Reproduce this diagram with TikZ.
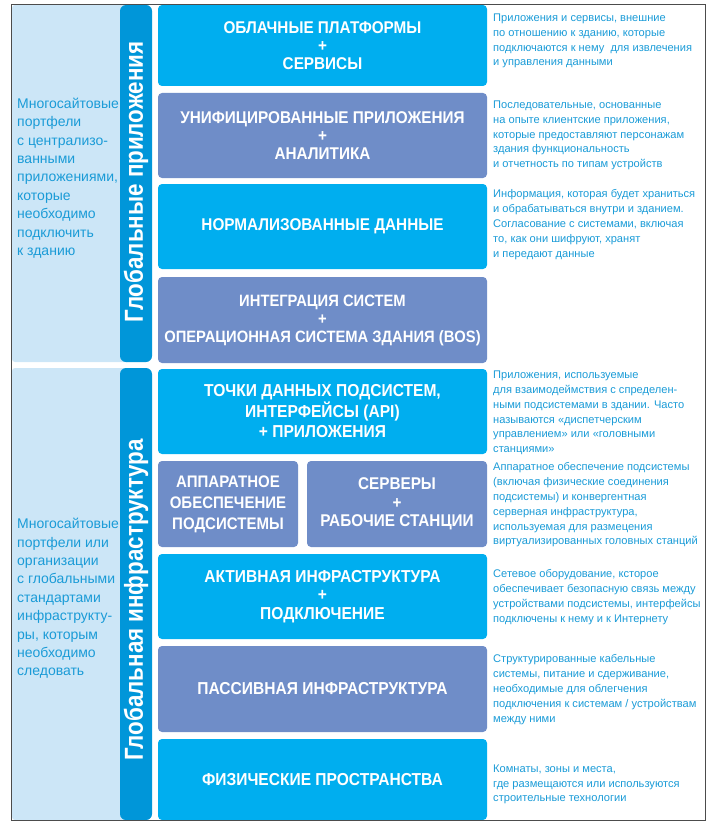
\documentclass[tikz,border=0pt]{standalone}
\usepackage{fontspec}
\setmainfont{Liberation Sans}[FakeStretch=0.9]
\newfontfamily\condfont{Liberation Sans}[FakeStretch=0.86]
\newfontfamily\notefont{Liberation Sans}
\definecolor{cyanbox}{HTML}{00AEEF}
\definecolor{slatebox}{HTML}{6F8DC8}
\definecolor{barblue}{HTML}{0096D9}
\definecolor{panelblue}{HTML}{CCE6F7}
\definecolor{noteblue}{HTML}{1A9BD7}
\tikzset{
  layer/.style={rounded corners=4pt,text=white,align=center,inner sep=0pt,
    font=\bfseries\fontsize{17}{18}\selectfont},
  cyanlayer/.style={layer,fill=cyanbox},
  slatelayer/.style={layer,fill=slatebox},
  note/.style={anchor=west,align=left,text=noteblue,inner sep=0pt,
    font=\notefont\fontsize{11.1}{14.8}\selectfont},
  sidenote/.style={anchor=west,align=left,text=noteblue,inner sep=0pt,
    font=\notefont\fontsize{14}{18.4}\selectfont},
  bartext/.style={rotate=90,text=white,inner sep=0pt,
    font=\condfont\bfseries\fontsize{26}{28}\selectfont},
}
\begin{document}
\begin{tikzpicture}[x=1pt,y=-1pt]
\useasboundingbox (0,0) rectangle (714,824);
%% left panels
\fill [panelblue,rounded corners=3pt] (12,5) rectangle (130,362);
\fill [panelblue,rounded corners=3pt] (12,368) rectangle (130,820);
\fill [barblue,rounded corners=6pt] (120,5) rectangle (152,362);
\fill [barblue,rounded corners=6pt] (120,368) rectangle (152,820);
\node (bar_apps) at (136,182) [bartext] {Глобальные приложения};
\node (bar_infra) at (136,600) [bartext] {Глобальная инфраструктура};
\node (side_apps) at (17,178) [sidenote] {Многосайтовые\\портфели\\с централизо-\\ванными\\приложениями,\\которые\\необходимо\\подключить\\к зданию};
\node (side_infra) at (17,598.5) [sidenote] {Многосайтовые\\портфели или\\организации\\с глобальными\\стандартами\\инфраструкту-\\ры, которым\\необходимо\\следовать};
%% layers
\node (cloud) at (322.5,45.5) [cyanlayer,minimum width=329pt,minimum height=81pt] {ОБЛАЧНЫЕ ПЛАТФОРМЫ\\+\\СЕРВИСЫ};
\node (unified) at (322.5,135.5) [slatelayer,minimum width=329pt,minimum height=85pt] {УНИФИЦИРОВАННЫЕ ПРИЛОЖЕНИЯ\\+\\АНАЛИТИКА};
\node (normdata) at (322.5,226.5) [cyanlayer,minimum width=329pt,minimum height=85pt] {НОРМАЛИЗОВАННЫЕ ДАННЫЕ};
\node (bos) at (322.5,320) [slatelayer,minimum width=329pt,minimum height=86pt,font=\bfseries\fontsize{16.4}{18}\selectfont] {ИНТЕГРАЦИЯ СИСТЕМ\\+\\ОПЕРАЦИОННАЯ СИСТЕМА ЗДАНИЯ (BOS)};
\node (api) at (322.5,411.5) [cyanlayer,minimum width=329pt,minimum height=85pt,font=\bfseries\fontsize{17.3}{20.5}\selectfont] {ТОЧКИ ДАННЫХ ПОДСИСТЕМ,\\ИНТЕРФЕЙСЫ (API)\\+ ПРИЛОЖЕНИЯ};
\node (hardware) at (228,504) [slatelayer,minimum width=140pt,minimum height=86pt,font=\bfseries\fontsize{16.7}{21}\selectfont] {АППАРАТНОЕ\\ОБЕСПЕЧЕНИЕ\\ПОДСИСТЕМЫ};
\node (servers) at (397,504) [slatelayer,minimum width=180pt,minimum height=86pt,font=\bfseries\fontsize{17}{18.5}\selectfont] {СЕРВЕРЫ\\+\\РАБОЧИЕ СТАНЦИИ};
\node (active) at (322.5,596.5) [cyanlayer,minimum width=329pt,minimum height=85pt,font=\bfseries\fontsize{17.3}{18.5}\selectfont] {АКТИВНАЯ ИНФРАСТРУКТУРА\\+\\ПОДКЛЮЧЕНИЕ};
\node (passive) at (322.5,689) [slatelayer,minimum width=329pt,minimum height=86pt,font=\bfseries\fontsize{17.3}{20}\selectfont] {ПАССИВНАЯ ИНФРАСТРУКТУРА};
\node (spaces) at (322.5,779.5) [cyanlayer,minimum width=329pt,minimum height=81pt,font=\bfseries\fontsize{17.3}{20}\selectfont] {ФИЗИЧЕСКИЕ ПРОСТРАНСТВА};
%% notes
\node (note_cloud) at (493,41) [note] {Приложения и сервисы, внешние\\по отношению к зданию, которые\\подключаются к нему\ \ для извлечения\\и управления данными};
\node (note_unified) at (493,135.5) [note] {Последовательные, основанные\\на опыте клиентские приложения,\\которые предоставляют персонажам\\здания функциональность\\и отчетность по типам устройств};
\node (note_normdata) at (493,224.5) [note] {Информация, которая будет храниться\\и обрабатываться внутри и зданием.\\Согласование с системами, включая\\то, как они шифруют, хранят\\и передают данные};
\node (note_api) at (493,413) [note] {Приложения, используемые\\для взаимодеймствия с спределен-\\ными подсистемами в здании. Часто\\называются «диспетчерским\\управлением» или «головными\\станциями»};
\node (note_hardware) at (493,505) [note] {Аппаратное обеспечение подсистемы\\(включая физические соединения\\подсистемы) и конвергентная\\серверная инфраструктура,\\используемая для размецения\\виртуализированных головных станций};
\node (note_active) at (493,597) [note] {Сетевое оборудование, ксторое\\обеспечивает безопасную связь между\\устройствами подсистемы, интерфейсы\\подключены к нему и к Интернету};
\node (note_passive) at (493,689.5) [note] {Структурированные кабельные\\системы, питание и сдерживание,\\необходимые для облегчения\\подключения к системам / устройствам\\между ними};
\node (note_spaces) at (493,784.5) [note] {Комнаты, зоны и места,\\где размещаются или используются\\строительные технологии};
%
\draw [black!70,line width=1pt] (11,5) rectangle (705,820);
\end{tikzpicture}
\end{document}
